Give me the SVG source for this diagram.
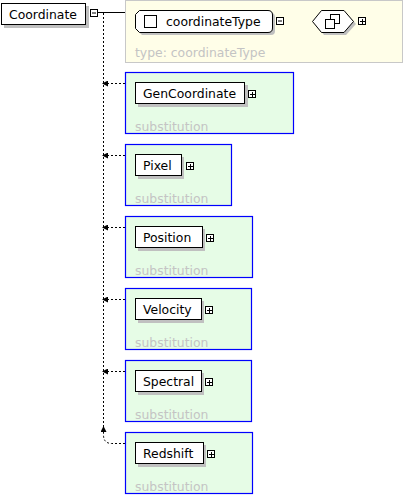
<svg xmlns="http://www.w3.org/2000/svg" width="404" height="496" viewBox="0 0 404 496">
<style>
text{font-family:"DejaVu Sans","Liberation Sans",sans-serif;font-size:12.4px;fill:#000}
.sub{fill:#c4c4c4}
.grp{fill:#e6fce6;stroke:#0000ff;stroke-width:1.2}
.el{fill:#fff;stroke:#000;stroke-width:1}
.sh{fill:#c0c0c0}
.ic{fill:#fff;stroke:#000;stroke-width:1}
.dot{fill:none;stroke:#000;stroke-width:1;stroke-dasharray:2,2}
</style>
<defs>
<marker id="ah" viewBox="0 0 6 6" refX="5" refY="3" markerWidth="6" markerHeight="6" orient="auto" markerUnits="userSpaceOnUse">
<path d="M0,0 L6,3 L0,6 Z" fill="#000"/>
</marker>
<g id="plus"><rect class="ic" x="0.5" y="0.5" width="7" height="7"/><path d="M2,4.5 H7 M4.5,2 V7" stroke="#000"/></g>
</defs>

<g id="connectors">
<path class="dot" d="M103.5,13 V428"/>
<path d="M97,12.5 H125" stroke="#000"/>
<path d="M284,20.5 H313" stroke="#000"/>
<path class="dot" d="M125,83.5 H103" marker-end="url(#ah)"/>
<path class="dot" d="M125,155.5 H103" marker-end="url(#ah)"/>
<path class="dot" d="M125,227.5 H103" marker-end="url(#ah)"/>
<path class="dot" d="M125,299.5 H103" marker-end="url(#ah)"/>
<path class="dot" d="M125,371.5 H103" marker-end="url(#ah)"/>
<path class="dot" d="M125,443.5 H112 Q103.5,443.5 103.5,435 V427" marker-end="url(#ah)"/>
</g>

<g id="Coordinate">
<rect class="sh" x="4" y="6" width="85" height="22"/>
<rect class="el" x="1.5" y="3.5" width="84" height="21"/>
<text x="9" y="19">Coordinate</text>
<rect class="ic" x="90.5" y="9.5" width="7" height="7"/>
<path d="M92,13 H96" stroke="#000"/>
</g>

<g id="typeBox">
<rect x="125.5" y="0.5" width="277" height="62" fill="#fffee8" stroke="#c8c8c8"/>
<path class="sh" d="M142,13 H271 Q275,13 275,17 V31 Q275,35 271,35 H142 L138,31 V17 Z"/>
<path class="el" d="M139.5,10.5 H268 Q272.5,10.5 272.5,15 V28 Q272.5,32.5 268,32.5 H139.5 L135.5,28.5 V14.5 Z"/>
<rect class="ic" x="144.5" y="15.5" width="12" height="12"/>
<text x="166" y="26">coordinateType</text>
<rect class="ic" x="276.5" y="17.5" width="7" height="7"/>
<path d="M278,21 H282" stroke="#000"/>
<path class="sh" d="M324,13 H346 L356,24 L346,35 H324 L316,24 Z"/>
<path class="el" d="M321.5,10.5 H344 L353.5,21.5 L344,32.5 H321.5 L312.5,21.5 Z"/>
<rect class="ic" x="330.5" y="14.5" width="9" height="9"/>
<rect class="ic" x="325.5" y="19.5" width="9" height="9"/>
<use href="#plus" x="358" y="17"/>
<text class="sub" x="135" y="57">type: coordinateType</text>
</g>

<g id="GenCoordinate">
<rect class="grp" x="125.5" y="72.5" width="168" height="61"/>
<rect class="sh" x="138" y="85" width="110" height="22"/>
<rect class="el" x="135.5" y="82.5" width="109" height="21"/>
<text x="143" y="98">GenCoordinate</text>
<use href="#plus" x="248" y="90"/>
<text class="sub" x="135" y="131">substitution</text>
</g>

<g id="Pixel">
<rect class="grp" x="125.5" y="144.5" width="106" height="61"/>
<rect class="sh" x="138" y="157" width="46" height="22"/>
<rect class="el" x="135.5" y="154.5" width="46" height="21"/>
<text x="143" y="170">Pixel</text>
<use href="#plus" x="186" y="162"/>
<text class="sub" x="135" y="203">substitution</text>
</g>

<g id="Position">
<rect class="grp" x="125.5" y="216.5" width="127" height="61"/>
<rect class="sh" x="138" y="229" width="67" height="22"/>
<rect class="el" x="135.5" y="226.5" width="67" height="21"/>
<text x="143" y="242">Position</text>
<use href="#plus" x="206" y="234"/>
<text class="sub" x="135" y="275">substitution</text>
</g>

<g id="Velocity">
<rect class="grp" x="125.5" y="288.5" width="126" height="61"/>
<rect class="sh" x="138" y="301" width="66" height="22"/>
<rect class="el" x="135.5" y="298.5" width="66" height="21"/>
<text x="143" y="314">Velocity</text>
<use href="#plus" x="205" y="306"/>
<text class="sub" x="135" y="347">substitution</text>
</g>

<g id="Spectral">
<rect class="grp" x="125.5" y="360.5" width="126" height="61"/>
<rect class="sh" x="138" y="373" width="66" height="22"/>
<rect class="el" x="135.5" y="370.5" width="66" height="21"/>
<text x="143" y="386">Spectral</text>
<use href="#plus" x="205" y="378"/>
<text class="sub" x="135" y="419">substitution</text>
</g>

<g id="Redshift">
<rect class="grp" x="125.5" y="432.5" width="127" height="61"/>
<rect class="sh" x="138" y="445" width="68" height="22"/>
<rect class="el" x="135.5" y="442.5" width="68" height="21"/>
<text x="143" y="458">Redshift</text>
<use href="#plus" x="207" y="450"/>
<text class="sub" x="135" y="491">substitution</text>
</g>
</svg>
